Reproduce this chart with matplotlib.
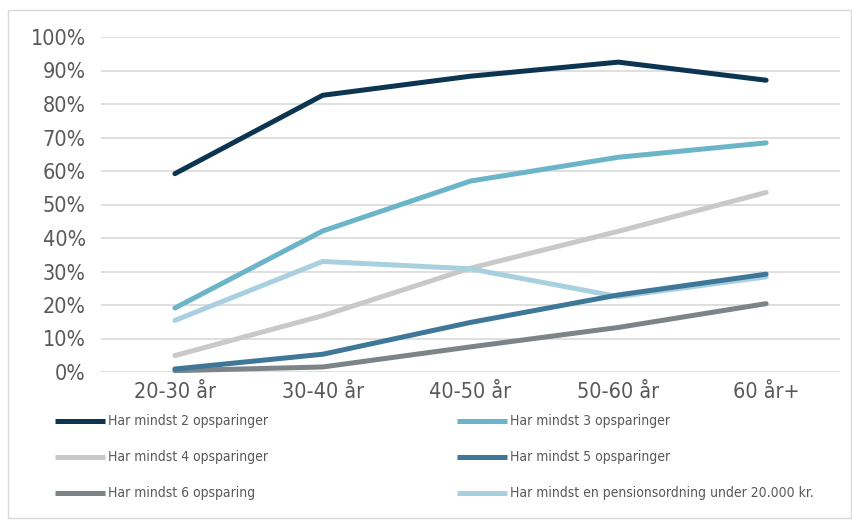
import matplotlib
matplotlib.use("Agg")
import matplotlib.pyplot as plt
from matplotlib.lines import Line2D
from matplotlib.patches import Rectangle

plt.rcParams['font.family'] = ['DejaVu Sans']
plt.rcParams['font.stretch'] = 'condensed'

categories = ["20-30 år", "30-40 år", "40-50 år", "50-60 år", "60 år+"]
series_labels = [
    "Har mindst 2 opsparinger",
    "Har mindst 3 opsparinger",
    "Har mindst 4 opsparinger",
    "Har mindst 5 opsparinger",
    "Har mindst 6 opsparing",
    "Har mindst en pensionsordning under 20.000 kr.",
]
mindst_2 = [59.2, 82.6, 88.3, 92.5, 87.1]
mindst_3 = [19.1, 42.1, 57.0, 64.1, 68.4]
mindst_4 = [4.9, 16.8, 31.0, 42.0, 53.6]
mindst_5 = [0.9, 5.3, 14.8, 23.0, 29.2]
mindst_6 = [0.4, 1.5, 7.5, 13.3, 20.4]
pension_u20k = [15.4, 33.0, 30.8, 22.5, 28.4]
yticks = [0, 10, 20, 30, 40, 50, 60, 70, 80, 90, 100]

series = [mindst_2, mindst_3, mindst_4, mindst_5, mindst_6, pension_u20k]
colors = ["#0b3550", "#6cb5c8", "#c9c9c9", "#3e7798", "#7d8487", "#a9d0de"]
# draw order: lighter lines underneath, the darker "5" line above the pension line
zorders = [8, 6, 3, 7, 4, 5]

fig = plt.figure(figsize=(8.52, 5.2), dpi=100)
fig.patches.append(Rectangle((0.009, 0.004), 0.99, 0.977, transform=fig.transFigure,
                             fill=False, edgecolor="#d9d9d9", linewidth=1.0))

ax = fig.add_axes([101 / 852, 1 - 372 / 520, 739 / 852, 335 / 520])
x = list(range(len(categories)))
for vals, col, z in zip(series, colors, zorders):
    ax.plot(x, vals, color=col, linewidth=3.6, solid_capstyle="round",
            solid_joinstyle="round", zorder=z, clip_on=False)

ax.set_xlim(-0.5, len(categories) - 0.5)
ax.set_ylim(0, 100)
ax.set_yticks(yticks)
ax.set_yticklabels([f"{v}%" for v in yticks])
ax.set_xticks(x)
ax.set_xticklabels(categories)
ax.yaxis.grid(True, color="#d9d9d9", linewidth=1.2)
ax.set_axisbelow(True)
for s in ax.spines.values():
    s.set_visible(False)
ax.tick_params(length=0, colors="#595959", labelsize=15.5)
ax.tick_params(axis="y", pad=11)
ax.tick_params(axis="x", pad=7)

# legend in two columns below the plot
leg_cols = [55 / 852, 457 / 852]
leg_rows = [1 - 421 / 520, 1 - 457 / 520, 1 - 493 / 520]
for i, (lab, col) in enumerate(zip(series_labels, colors)):
    cx = leg_cols[i % 2]
    cy = leg_rows[i // 2]
    fig.add_artist(Line2D([cx, cx + 50 / 852], [cy, cy], color=col, linewidth=3.6,
                          transform=fig.transFigure, solid_capstyle="butt"))
    fig.text(cx + 53 / 852, cy, lab, ha="left", va="center", fontsize=10,
             color="#595959")

fig.savefig("out.png", dpi=100)
